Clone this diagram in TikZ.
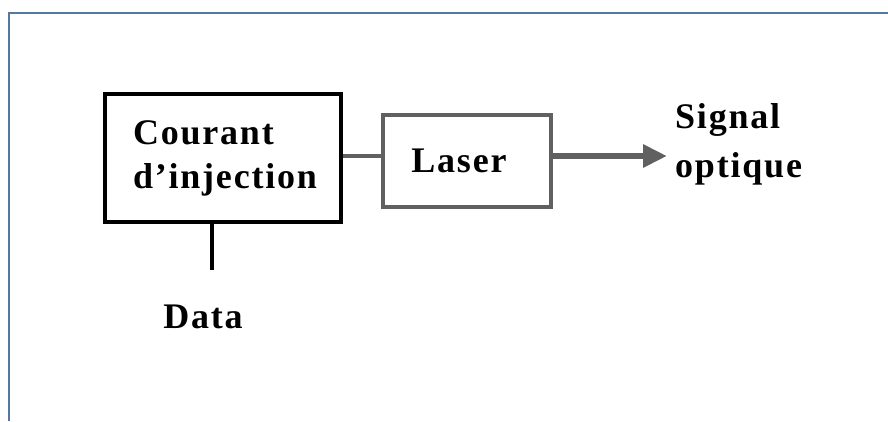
\documentclass[tikz,border=0pt]{standalone}
\usepackage{fontspec}
\setmainfont{Liberation Serif}[LetterSpace=5]
\usetikzlibrary{arrows.meta}
\definecolor{framecol}{RGB}{84,120,160}
\definecolor{graycol}{RGB}{96,96,96}
\tikzset{
  lbl/.style={font=\fontsize{36}{44}\selectfont\bfseries, inner sep=0pt},
  blackbox/.style={draw=black, line width=4pt, minimum width=236pt, minimum height=128pt, align=left, inner sep=0pt},
  graybox/.style={draw=graycol, line width=4pt, minimum width=168pt, minimum height=92pt, inner sep=0pt},
  link/.style={draw=graycol, line width=4pt},
  datalink/.style={draw=black, line width=4pt},
  outarrow/.style={draw=graycol, line width=6pt, -{Triangle[length=24pt,width=22pt]}}
}
\begin{document}
\begin{tikzpicture}[x=1pt,y=-1pt]
  \useasboundingbox (0,0) rectangle (888,421);
  \fill[white] (0,0) rectangle (888,421);
  \draw[framecol, line width=2pt] (9,421) -- (9,13) -- (888,13);
  \node[blackbox, lbl] (inj) at (223,158) {\raisebox{-3pt}{\parbox{180pt}{\raggedright Courant\\d’injection}}};
  \node[graybox, lbl] (laser) at (467,161) {Laser\hspace*{16pt}};
  \draw[link] (inj.east |- 0,156) -- (laser.west |- 0,156);
  \coordinate (tip) at (667,156);
  \draw[outarrow] (laser.east |- 0,156) -- (tip);
  \node[lbl, anchor=base west, align=left, font=\fontsize{36}{49}\selectfont\bfseries] (sig) at (675,177) {Signal\\optique};
  \coordinate (dataend) at (212,270);
  \draw[datalink] (inj.south -| dataend) -- (dataend);
  \node[lbl, anchor=base] (data) at (203,328) {Data};
\end{tikzpicture}
\end{document}
